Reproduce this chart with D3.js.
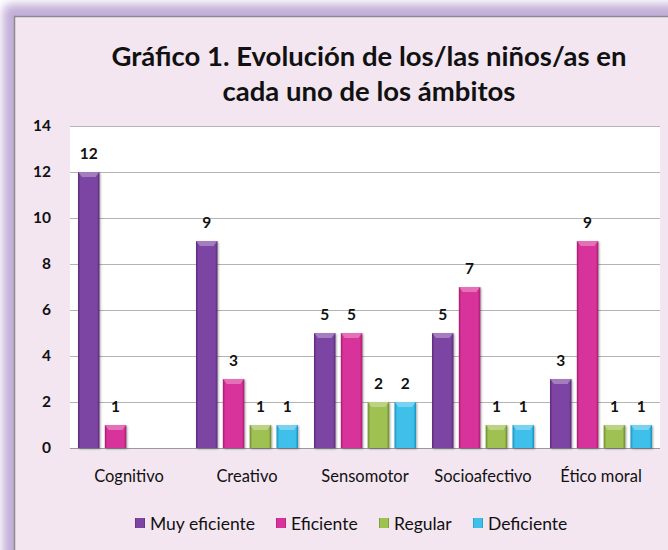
<!DOCTYPE html>
<html>
<head>
<meta charset="utf-8">
<script src="https://cdn.jsdelivr.net/npm/d3@7"></script>
<style>
  body { margin: 0; background: #fff; }
  svg { display: block; font-family: Lato, "Open Sans", sans-serif; }
</style>
</head>
<body>
<svg id="chart" width="668" height="550"></svg>
<script>
const CATEGORIES = ['Cognitivo', 'Creativo', 'Sensomotor', 'Socioafectivo', 'Ético moral'];
const SERIES = ['Muy eficiente', 'Eficiente', 'Regular', 'Deficiente'];
const MUY_EFICIENTE = [12, 9, 5, 5, 3];
const EFICIENTE = [1, 3, 5, 7, 9];
const REGULAR = [null, 1, 2, 1, 1];
const DEFICIENTE = [null, 1, 2, 1, 1];
const Y_TICKS = [0, 2, 4, 6, 8, 10, 12, 14];
const TITLE_LINES = ['Gráfico 1. Evolución de los/las niños/as en', 'cada uno de los ámbitos'];

const COLORS = {
    'Muy eficiente': ['#5b2a78', '#7d45a3'],
    'Eficiente': ['#a81c70', '#d8339a'],
    'Regular': ['#6a8a2c', '#9fc152'],
    'Deficiente': ['#1690bd', '#3ec0ea']
};

const svg = d3.select('#chart');
const defs = svg.append('defs');

// outer glow frame
const glow = defs.append('filter').attr('id', 'glow')
    .attr('x', '-10%').attr('y', '-10%').attr('width', '120%').attr('height', '120%');
glow.append('feGaussianBlur').attr('stdDeviation', 5);

svg.append('rect').attr('x', 0).attr('y', 0).attr('width', 668).attr('height', 550).attr('fill', '#fff');
svg.append('rect')
    .attr('x', 3).attr('y', 4).attr('width', 700).attr('height', 600)
    .attr('rx', 8)
    .attr('fill', '#c3afd8')
    .attr('filter', 'url(#glow)');
svg.append('rect')
    .attr('x', 14.5).attr('y', 16.5).attr('width', 700).attr('height', 600)
    .attr('fill', '#f3e6f1')
    .attr('stroke', '#8a8a8a')
    .attr('stroke-width', 1.5);

SERIES.forEach((s, i) => {
    const g = defs.append('linearGradient').attr('id', `grad${i}`)
        .attr('x1', 0).attr('x2', 1).attr('y1', 0).attr('y2', 0);
    g.append('stop').attr('offset', '0%').attr('stop-color', COLORS[s][0]);
    g.append('stop').attr('offset', '12%').attr('stop-color', COLORS[s][1]);
    g.append('stop').attr('offset', '88%').attr('stop-color', COLORS[s][1]);
    g.append('stop').attr('offset', '100%').attr('stop-color', COLORS[s][0]);
});

// title
svg.append('text')
    .attr('x', 369).attr('y', 66)
    .attr('text-anchor', 'middle')
    .style('font-size', '27.5px').style('font-weight', 'bold').style('fill', '#111')
    .selectAll('tspan')
    .data(TITLE_LINES)
    .join('tspan')
    .attr('x', 369)
    .attr('dy', (d, i) => i === 0 ? 0 : 35)
    .text(d => d);

const plot = { left: 70, right: 660, top: 126, bottom: 448 };

const x0 = d3.scaleBand().domain(CATEGORIES).range([plot.left, plot.right]);
const x1 = d3.scaleBand().domain(SERIES).range([8, x0.bandwidth() - 8]).paddingInner(0.2);
const y = d3.scaleLinear().domain([0, 14]).range([plot.bottom, plot.top]);

svg.append('rect')
    .attr('x', plot.left).attr('y', plot.top)
    .attr('width', plot.right - plot.left).attr('height', plot.bottom - plot.top)
    .attr('fill', '#fff');

// gridlines
svg.append('g')
    .selectAll('line')
    .data(Y_TICKS)
    .join('line')
    .attr('x1', plot.left).attr('x2', plot.right)
    .attr('y1', d => y(d) + 0.5).attr('y2', d => y(d) + 0.5)
    .attr('stroke', d => d === 0 ? '#9a9a9a' : '#b4b4b4')
    .attr('stroke-width', 1.2);

// y axis labels
const yAxis = svg.append('g')
    .attr('transform', `translate(${plot.left - 19},0)`)
    .call(d3.axisLeft(y).tickValues(Y_TICKS).tickSize(0).tickPadding(0));
yAxis.select('.domain').remove();
yAxis.selectAll('text')
    .style('font-family', 'Lato, "Open Sans", sans-serif')
    .style('font-size', '15.5px').style('font-weight', 'bold').style('fill', '#111');

// x axis labels
const xAxis = svg.append('g')
    .attr('transform', `translate(0,${plot.bottom + 22})`)
    .call(d3.axisBottom(x0).tickSize(0).tickPadding(0));
xAxis.select('.domain').remove();
xAxis.selectAll('text')
    .style('font-family', 'Lato, "Open Sans", sans-serif')
    .style('font-size', '16.5px').style('fill', '#111');

const values = [MUY_EFICIENTE, EFICIENTE, REGULAR, DEFICIENTE];
const bars = [];
CATEGORIES.forEach((c, ci) => {
    SERIES.forEach((s, si) => {
        const v = values[si][ci];
        if (v !== null) bars.push({ cat: c, series: s, si: si, value: v });
    });
});

const barG = svg.append('g');
barG.selectAll('rect')
    .data(bars)
    .join('rect')
    .attr('x', d => x0(d.cat) + x1(d.series))
    .attr('y', d => y(d.value))
    .attr('width', x1.bandwidth())
    .attr('height', d => y(0) - y(d.value))
    .attr('fill', d => `url(#grad${d.si})`)
    .style('filter', 'drop-shadow(1px 1px 1px rgba(0,0,0,0.35))');

// bevel highlight on top of each bar
barG.selectAll('path.bevel')
    .data(bars)
    .join('path')
    .attr('class', 'bevel')
    .attr('d', d => {
        const xl = x0(d.cat) + x1(d.series);
        const w = x1.bandwidth();
        const yt = y(d.value);
        return `M${xl},${yt} L${xl + w},${yt} L${xl + w - 4},${yt + 5} L${xl + 4},${yt + 5} Z`;
    })
    .attr('fill', 'rgba(255,255,255,0.3)');

// value labels
barG.selectAll('text')
    .data(bars)
    .join('text')
    .attr('x', d => x0(d.cat) + x1(d.series) + x1.bandwidth() / 2)
    .attr('y', d => y(d.value) - 13)
    .attr('text-anchor', 'middle')
    .style('font-size', '15.5px').style('font-weight', 'bold').style('fill', '#111')
    .text(d => d.value);

// legend
const legendX = d3.scaleOrdinal().domain(SERIES).range([135, 276, 379, 473]);
const legend = svg.append('g')
    .selectAll('g')
    .data(SERIES)
    .join('g')
    .attr('transform', d => `translate(${legendX(d)},527)`);
legend.append('rect')
    .attr('x', 0).attr('y', -9).attr('width', 10).attr('height', 10)
    .attr('fill', (d, i) => `url(#grad${i})`);
legend.append('text')
    .attr('x', 15).attr('y', 0)
    .attr('dy', '0.15em')
    .style('font-size', '17.5px').style('fill', '#111')
    .text(d => d);
</script>
</body>
</html>
